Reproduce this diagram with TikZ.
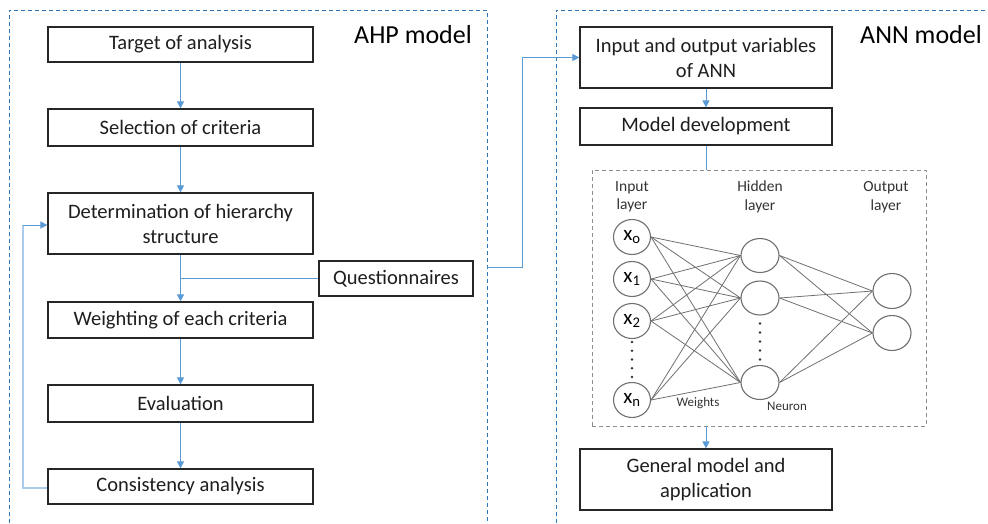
\documentclass[tikz,border=0pt]{standalone}
\usepackage{fontspec}
\setmainfont{Carlito}
\usetikzlibrary{shapes.geometric,arrows.meta}
\definecolor{arrowblue}{HTML}{5B9BD5}
\definecolor{dashblue}{HTML}{2E75B6}
\definecolor{fbblue}{HTML}{A9CCEC}
\definecolor{txt}{HTML}{1E1E1E}
\definecolor{nngray}{HTML}{707070}
\definecolor{nntext}{HTML}{333333}
\begin{document}
\begin{tikzpicture}[x=1pt,y=-1pt,
  box/.style={draw=black!85, line width=1.2pt, rectangle, inner sep=0pt, minimum width=265pt, align=center, text=txt, font=\fontsize{20.5}{25}\selectfont},
  annbox/.style={box, minimum width=252pt},
  flow/.style={draw=arrowblue, line width=1pt, -{Triangle[length=7pt,width=7pt]}},
  plainflow/.style={draw=arrowblue, line width=1pt},
  fbline/.style={draw=fbblue, line width=2pt},
  outer/.style={draw=dashblue, line width=1pt, dash pattern=on 4pt off 3pt},
  title/.style={font=\fontsize{26}{30}\selectfont, text=black, inner sep=0pt},
  neuron/.style={draw=nngray, line width=1.1pt, ellipse, inner sep=0pt, minimum width=38pt, minimum height=34pt, text=black, font=\fontsize{21}{22}\selectfont},
  nnline/.style={draw=nngray, line width=0.8pt},
  layerlabel/.style={font=\fontsize{15.5}{18.5}\selectfont, text=nntext, align=center, inner sep=0pt},
  smalllabel/.style={font=\fontsize{13}{15}\selectfont, text=nntext, inner sep=0pt},
  nndot/.style={fill=nntext}
]
\useasboundingbox (0,0) rectangle (988,523);
\fill[white] (0,0) rectangle (988,523);

% outer dashed frames
\draw[outer] (9,523) -- (9,10) -- (487,10) -- (487,523);
\draw[outer] (556,523) -- (556,10) -- (988,10);
\node[title, anchor=base west] (ahp) at (354,43) {AHP model};
\node[title, anchor=base west] (ann) at (860,43) {ANN model};

% AHP column
\node[box, minimum height=35pt] (target) at (180.5,44.5) {Target of analysis};
\node[box, minimum height=37pt] (select) at (180.5,127.5) {Selection of criteria};
\node[box, minimum height=61pt] (determ) at (180.5,223.5) {Determination of hierarchy\\structure};
\node[box, minimum height=36pt] (weight) at (180.5,320) {Weighting of each criteria};
\node[box, minimum height=37pt] (evalu) at (180.5,403.5) {Evaluation};
\node[box, minimum height=35pt] (consist) at (180.5,486.5) {Consistency analysis};
\node[box, minimum width=154pt, minimum height=35pt] (quest) at (396,278.5) {Questionnaires};

\draw[flow] (target) -- (select);
\draw[flow] (select) -- (determ);
\draw[flow] (determ) -- (weight);
\draw[plainflow] (quest.west) -- (quest.west -| determ.south);

\draw[flow] (weight) -- (evalu);
\draw[flow] (evalu) -- (consist);

% feedback loop
\coordinate (fbbot) at (23,488);
\coordinate (fbtop) at (23,225);
\draw[fbline] (consist.west |- fbbot) -- (fbbot) -- (fbtop);
\draw[flow] (fbtop) -- (determ.west |- fbtop);

% ANN column
\node[annbox, minimum height=61pt] (inout) at (706,57.5) {Input and output variables\\of ANN};
\node[annbox, minimum height=37pt] (modeldev) at (706,126.5) {Model development};
\node[annbox, minimum height=61pt] (general) at (706,479.5) {General model and\\application};
\node[draw=nngray!80, line width=0.8pt, dash pattern=on 4pt off 3pt, rectangle, minimum width=334pt, minimum height=256pt, inner sep=0pt] (nnbox) at (759,298) {};

\coordinate (qstart) at (487,267);
\coordinate (qturn) at (522,267);
\draw[flow] (qstart) -- (qturn) -- (qturn |- inout.west) -- (inout.west);

\draw[flow] (inout) -- (modeldev);
\draw[plainflow] (modeldev.south) -- (modeldev.south |- nnbox.north);
\draw[flow] (nnbox.south -| general.north) -- (general.north);

% neural network
\node[layerlabel] (linput) at (632,197) {Input\\layer};
\node[layerlabel] (lhidden) at (760,197) {Hidden\\layer};
\node[layerlabel] (loutput) at (886,197) {Output\\layer};

\node[neuron, minimum width=37pt, minimum height=35pt] (x0) at (632,237) {x\textsubscript{o}};
\node[neuron, minimum width=37pt, minimum height=35pt] (x1) at (632,279) {x\textsubscript{1}};
\node[neuron, minimum width=37pt, minimum height=35pt] (x2) at (632,321) {x\textsubscript{2}};
\node[neuron, minimum width=37pt, minimum height=35pt] (xn) at (632,400) {x\textsubscript{n}};

\node[neuron] (h1) at (760,255.5) {};
\node[neuron] (h2) at (760,298) {};
\node[neuron] (h3) at (760,382.5) {};

\node[neuron, minimum height=35pt] (o1) at (892,291) {};
\node[neuron, minimum height=35pt] (o2) at (892,333) {};

\foreach \i in {x0,x1,x2,xn}
  \foreach \j in {h1,h2,h3}
    \draw[nnline] (\i.east) -- (\j.west);
\foreach \i in {h1,h2,h3}
  \foreach \j in {o1,o2}
    \draw[nnline] (\i.east) -- (\j.west);

\foreach \y in {342,350.75,359.5,368.25,377}
  \fill[nndot] (632,\y) circle (1.3pt);
\foreach \y in {323.5,332.5,341.5,350.5,359.5}
  \fill[nndot] (760,\y) circle (1.3pt);

\node[smalllabel] (weights) at (698,403) {Weights};
\node[smalllabel] (neuronlbl) at (787,406.5) {Neuron};
\end{tikzpicture}
\end{document}
